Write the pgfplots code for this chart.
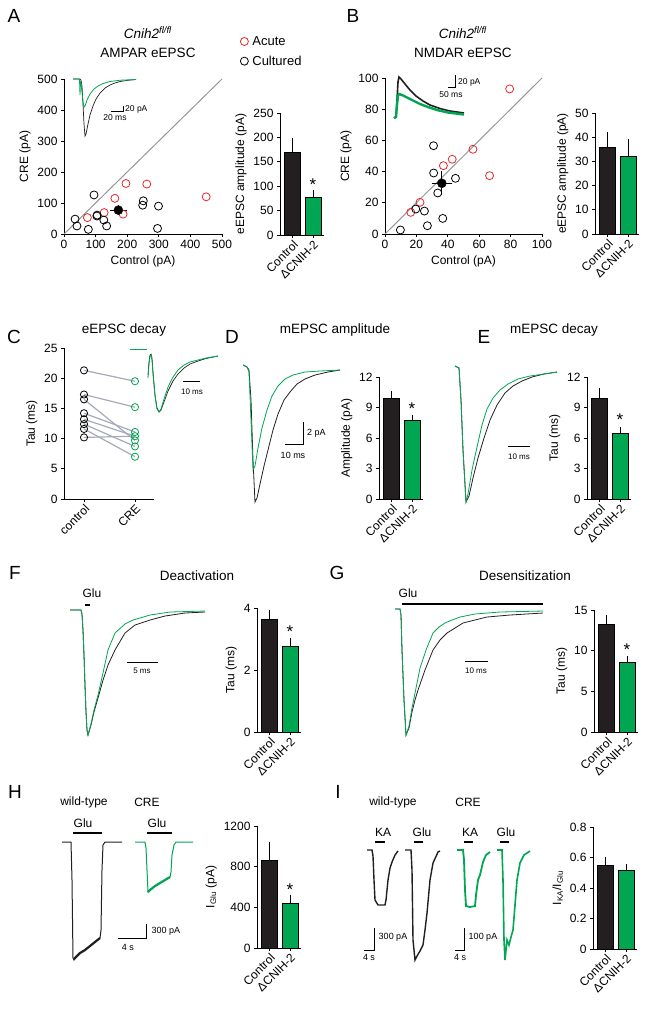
\documentclass[border=0pt]{standalone}
\usepackage{pgfplots}
\pgfplotsset{compat=1.18}
\usepackage{fontspec}
\setmainfont{Liberation Sans}
\definecolor{cgreen}{RGB}{0,166,81}
\definecolor{cred}{RGB}{230,40,40}
\definecolor{cblack}{RGB}{35,31,32}
\definecolor{cgray}{RGB}{150,150,150}
\definecolor{cline}{RGB}{165,170,185}
\newcommand{\fs}[1]{\fontsize{#1}{#1}\selectfont}
\tikzset{starnode/.style={anchor=south, font=\fs{17}, inner sep=0pt}}
\pgfplotsset{
 base/.style={scale only axis, anchor=south west, axis lines=left,
   axis line style={-, line width=0.9pt, black}, tick align=outside,
   major tick length=3pt, tick style={line width=0.8pt, black},
   tick label style={font=\fs{12}}, label style={font=\fs{12}}, clip=false,
   /pgf/number format/assume math mode=true, /pgf/number format/1000 sep={},
   scaled ticks=false},
 barax/.style={base, width=44pt, xmin=0, xmax=44, ymin=0, xtick={12.5,33},
   xticklabels={Control,ΔCNIH-2},
   xticklabel style={rotate=45, anchor=north east, inner sep=1pt, font=\fs{12}}},
 barplot/.style={ybar, bar width=16, bar shift=0pt, fill=#1, draw=black,
   line width=0.5pt, error bars/.cd, y dir=plus, y explicit,
   error bar style={line width=0.8pt, black},
   error mark options={line width=0.8pt, mark size=3pt, black}},
}
\begin{document}
\begin{tikzpicture}[x=1pt,y=1pt]
\path[use as bounding box] (0,0) rectangle (649,-1009);

% ---------------- A scatter
\begin{axis}[base, at={(64pt,-234pt)}, width=158pt, height=155pt,
  xmin=0, xmax=500, ymin=0, ymax=500, xtick={0,100,...,500}, ytick={0,100,...,500},
  xlabel={Control (pA)}, ylabel={CRE (pA)},
  legend style={at={(1.115,1.29)}, anchor=north west, draw=none, fill=none,
    font=\fs{13}, row sep=5pt, inner sep=0pt,
    nodes={inner xsep=4pt}}, legend cell align=left]
\addplot[cgray, line width=1pt, forget plot] coordinates {(0,0)(500,500)};
\addplot[only marks, mark=o, mark size=4pt, cred, line width=0.8pt] coordinates {
(196,163)(262,161)(450,120)(161,115)(127,69)(74,53)(187,64)};
\addlegendentry{Acute}
\addplot[only marks, mark=o, mark size=4pt, black, line width=0.8pt] coordinates {
(95,126)(251,107)(249,93)(299,90)(296,18)(35,48)(41,26)(77,15)(105,61)(126,45)(135,26)(104,58)};
\addlegendentry{Cultured}
\addplot[only marks, mark=*, mark size=4.5pt, black, forget plot,
  error bars/.cd, x dir=both, x explicit, y dir=both, y explicit,
  error bar style={line width=0.8pt}, error mark options={mark size=2.5pt, line width=0.8pt}]
  coordinates {(172,77) +- (20,7)};
\end{axis}

% ---------------- A bars
\begin{axis}[barax, at={(280pt,-235pt)}, height=122pt, ymax=250, ytick={0,50,...,250},
  ylabel={eEPSC amplitude (pA)}]
\addplot[barplot=cblack] coordinates {(12.5,170) +- (0,22)};
\addplot[barplot=cgreen] coordinates {(33,77) +- (0,10)};
\node[starnode] at (axis cs:33,90) {*};
\end{axis}

% ---------------- B scatter
\begin{axis}[base, at={(385pt,-234pt)}, width=157pt, height=156pt,
  xmin=0, xmax=100, ymin=0, ymax=100, xtick={0,20,...,100}, ytick={0,20,...,100},
  xlabel={Control (pA)}, ylabel={CRE (pA)}]
\addplot[cgray, line width=1pt] coordinates {(0,0)(100,100)};
\addplot[only marks, mark=o, mark size=4pt, cred, line width=0.8pt] coordinates {
(79.4,93)(56,54.3)(66.6,37.4)(42.8,47.9)(37.2,43.8)(22.3,20.3)(16.4,13.9)};
\addplot[only marks, mark=o, mark size=4pt, black, line width=0.8pt] coordinates {
(30.9,56.6)(31,39.1)(44.9,35.7)(33.6,26.3)(19.6,16)(25.1,14.7)(36.8,10)(27,5.3)(9.8,2.6)};
\addplot[only marks, mark=*, mark size=4.5pt, black,
  error bars/.cd, x dir=both, x explicit, y dir=both, y explicit,
  error bar style={line width=0.8pt}, error mark options={mark size=2.5pt, line width=0.8pt}]
  coordinates {(36.2,32.5) +- (4.9,6)};
\end{axis}

% ---------------- B bars
\begin{axis}[barax, at={(595pt,-234pt)}, height=121pt, ymax=50, ytick={0,10,...,50},
  ylabel={eEPSC amplitude (pA)}]
\addplot[barplot=cblack] coordinates {(12.5,36) +- (0,5)};
\addplot[barplot=cgreen] coordinates {(33,32) +- (0,6)};
\end{axis}

% ---------------- C
\begin{axis}[base, at={(64pt,-499pt)}, width=90pt, height=151pt,
  xmin=0, xmax=90, ymin=0, ymax=25, ytick={0,5,...,25}, xtick={20,71},
  xticklabels={control,CRE},
  xticklabel style={rotate=45, anchor=north east, inner sep=1pt, font=\fs{12}},
  ylabel={Tau (ms)}]
\addplot[cline, line width=1.2pt] coordinates {(20,21.3)(71,19.5)};
\addplot[cline, line width=1.2pt] coordinates {(20,17.3)(71,15.2)};
\addplot[cline, line width=1.2pt] coordinates {(20,16.5)(71,9.7)};
\addplot[cline, line width=1.2pt] coordinates {(20,14.2)(71,11.1)};
\addplot[cline, line width=1.2pt] coordinates {(20,13.2)(71,10.4)};
\addplot[cline, line width=1.2pt] coordinates {(20,12.4)(71,8.7)};
\addplot[cline, line width=1.2pt] coordinates {(20,11.6)(71,7.0)};
\addplot[cline, line width=1.2pt] coordinates {(20,10.2)(71,10.4)};
\addplot[only marks, mark=o, mark size=3.6pt, black, line width=0.8pt, mark options={fill=white}] coordinates {
(20,21.3)(20,17.3)(20,16.5)(20,14.2)(20,13.2)(20,12.4)(20,11.6)(20,10.2)};
\addplot[only marks, mark=o, mark size=3.6pt, cgreen, line width=0.8pt, mark options={fill=white}] coordinates {
(71,19.5)(71,15.2)(71,11.1)(71,10.4)(71,9.7)(71,8.7)(71,7.0)};
\end{axis}

% ---------------- D bars
\begin{axis}[barax, at={(379pt,-499pt)}, height=122pt, ymax=12, ytick={0,3,...,12},
  ylabel={Amplitude (pA)}]
\addplot[barplot=cblack] coordinates {(12.5,9.9) +- (0,0.4)};
\addplot[barplot=cgreen] coordinates {(33,7.7) +- (0,0.25)};
\node[starnode] at (axis cs:33,8.3) {*};
\end{axis}

% ---------------- E bars
\begin{axis}[barax, at={(587pt,-499pt)}, height=122pt, ymax=12, ytick={0,3,...,12},
  ylabel={Tau (ms)}]
\addplot[barplot=cblack] coordinates {(12.5,9.9) +- (0,0.7)};
\addplot[barplot=cgreen] coordinates {(33,6.5) +- (0,0.3)};
\node[starnode] at (axis cs:33,7.2) {*};
\end{axis}

% ---------------- F bars
\begin{axis}[barax, at={(257pt,-732pt)}, height=124pt, ymax=4, ytick={0,2,4},
  ylabel={Tau (ms)}]
\addplot[barplot=cblack] coordinates {(12.5,3.65) +- (0,0.2)};
\addplot[barplot=cgreen] coordinates {(33,2.77) +- (0,0.18)};
\node[starnode] at (axis cs:33,3.03) {*};
\end{axis}

% ---------------- G bars
\begin{axis}[barax, at={(594pt,-732pt)}, height=122pt, ymax=15, ytick={0,5,10,15},
  ylabel={Tau (ms)}]
\addplot[barplot=cblack] coordinates {(12.5,13.2) +- (0,0.8)};
\addplot[barplot=cgreen] coordinates {(33,8.6) +- (0,0.4)};
\node[starnode] at (axis cs:33,9.4) {*};
\end{axis}

% ---------------- H bars
\begin{axis}[barax, at={(257pt,-948pt)}, height=122pt, ymax=1200, ytick={0,400,800,1200},
  ylabel={I\textsubscript{Glu} (pA)}]
\addplot[barplot=cblack] coordinates {(12.5,860) +- (0,155)};
\addplot[barplot=cgreen] coordinates {(33,445) +- (0,50)};
\node[starnode] at (axis cs:33,510) {*};
\end{axis}

% ---------------- I bars
\begin{axis}[barax, at={(593pt,-949pt)}, height=122pt, ymax=0.8, ytick={0,0.2,...,0.8},
  ylabel={I\textsubscript{KA}/I\textsubscript{Glu}},
  yticklabel style={/pgf/number format/fixed, /pgf/number format/precision=1}]
\addplot[barplot=cblack] coordinates {(12.5,0.55) +- (0,0.035)};
\addplot[barplot=cgreen] coordinates {(33,0.515) +- (0,0.025)};
\end{axis}

% ---------------- overlay: traces, scale bars, texts (pixel coordinates)
\begin{axis}[at={(0pt,-1009pt)}, anchor=south west, scale only axis, width=649pt, height=1009pt,
  xmin=0, xmax=649, ymin=0, ymax=1009, y dir=reverse, hide axis, clip=false]
% A inset
\addplot[cblack, line width=0.7pt] coordinates {(73,79)(80,79)(81,80)(82,86)(83,104)(84,124)(85,136)(86,134)(88,124)(90,115)(93,106)(96,99)(100,93)(105,88)(110,85)(115,83)(120,81.5)(128,80.3)(136,79.5)};
\addplot[cgreen, line width=0.8pt] coordinates {(73,79)(79.5,79)(80,95)(80.5,82)(81,83)(82,92)(83,102)(84,107)(85,106)(87,100)(90,94)(94,89)(98,86)(103,83.5)(110,81.5)(120,80.2)(136,79.5)};
\addplot[black, line width=0.6pt] coordinates {(111,111)(123,111)(123,106)};
% B inset
\addplot[cblack, line width=1.6pt] coordinates {(394,118)(396,117)(397,100)(398,82)(399,77)(401,79)(405,84)(410,90)(416,96)(423,101)(430,105)(440,108.5)(450,111)(464,113)};
\addplot[cgreen, line width=2.4pt] coordinates {(394,118)(396,117)(397,105)(398,96)(399,94)(402,95)(406,97)(412,100)(420,104)(428,107)(437,110)(448,112.5)(464,114.5)};
\addplot[black, line width=0.6pt] coordinates {(448,87)(455,87)(455,75)};
% C inset
\addplot[cgreen, line width=0.8pt] coordinates {(130,349)(147,349)};
\addplot[cblack, line width=0.7pt] coordinates {(148,375)(149,362)(150,355)(151,354)(152,358)(153,372)(155,395)(157,408)(159,412)(161,410)(164,402)(168,391)(173,381)(178,374)(184,368)(190,364)(198,361)(206,358.5)(218,356)};
\addplot[cgreen, line width=0.8pt] coordinates {(148,378)(149,364)(150,356)(151,355)(152,360)(153,374)(155,396)(157,409)(159,412)(161,409)(164,399)(168,387)(173,377)(178,370)(184,365)(190,362)(198,360)(206,358)(218,356)};
\addplot[black, line width=0.6pt] coordinates {(183,381)(200,381)};
% D traces
\addplot[cblack, line width=0.8pt] coordinates {(243,365)(247,367)(249,370)(251,400)(253,460)(255,502)(257,498)(260,484)(264,466)(268,450)(273,430)(278,414)(284,400)(290,392)(297,384)(305,379)(315,375)(328,372)(340,370)};
\addplot[cgreen, line width=0.8pt] coordinates {(243,365)(247,367)(249,372)(251,420)(253,470)(255,466)(258,448)(262,428)(267,410)(272,396)(278,386)(285,379)(293,375)(305,372)(320,371)(340,370)};
\addplot[black, line width=0.6pt] coordinates {(285,444)(303,444)(303,422)};
% E traces
\addplot[cblack, line width=0.8pt] coordinates {(455,366)(459,368)(461,400)(463,450)(466,502)(469,496)(473,478)(478,458)(484,438)(490,420)(497,405)(505,393)(513,386)(522,381)(532,377)(544,374)(557,372)};
\addplot[cgreen, line width=0.8pt] coordinates {(455,366)(459,368)(461,400)(463,450)(466,502)(468,494)(472,470)(477,447)(482,425)(487,409)(493,398)(500,390)(508,384)(518,379)(530,376)(544,374)(557,372)};
\addplot[black, line width=0.6pt] coordinates {(508,446)(530,446)};
% F traces
\addplot[black, line width=2pt] coordinates {(85,605)(90,605)};
\addplot[cblack, line width=0.8pt] coordinates {(70,610)(81,610)(82,614)(83,630)(84,655)(85,685)(86,712)(87,730)(88,735)(91,725)(94,712)(98,698)(103,680)(108,665)(115,650)(125,633)(135,625)(150,620)(165,616)(185,613)(205,612)};
\addplot[cgreen, line width=0.8pt] coordinates {(70,610)(81,610)(82,614)(83,630)(84,655)(85,685)(86,712)(87,730)(88,735)(91,724)(94,710)(98,695)(103,673)(108,650)(115,633)(125,624)(133,620)(150,615)(170,612)(205,611)};
\addplot[black, line width=0.6pt] coordinates {(127,662)(158,662)};
% G traces
\addplot[black, line width=2pt] coordinates {(402,604)(543,604)};
\addplot[cblack, line width=0.8pt] coordinates {(395,609)(400,609)(401,615)(402,650)(404,700)(406,735)(409,728)(412,712)(415,700)(418,690)(425,670)(433,650)(440,640)(447,633)(455,628)(463,623)(475,620)(487,617)(510,615)(543,613)};
\addplot[cgreen, line width=0.8pt] coordinates {(395,609)(400,609)(401,615)(402,650)(404,700)(406,735)(409,726)(412,708)(416,688)(420,668)(426,650)(433,633)(439,627)(445,623)(452,620)(460,617)(475,614)(500,612)(543,611)};
\addplot[black, line width=0.6pt] coordinates {(465,661)(488,661)};
% H traces
\addplot[black, line width=1.5pt] coordinates {(73,833)(102,833)};
\addplot[black, line width=1.5pt] coordinates {(147,833)(172,833)};
\addplot[cblack, line width=1pt] coordinates {(62,842)(71,842)(72,880)(73,958)(74,960)(76,957)(80,953)(85,950)(90,946)(95,942)(100,938)(101,930)(102,870)(103,845)(105,842)(122,842)};
\addplot[cblack, line width=2.2pt] coordinates {(74,959)(76,957)(80,953)(85,950)(90,946)(95,942)(100,938)};
\addplot[cgreen, line width=1pt] coordinates {(135,842)(145,842)(146,848)(147,870)(148,892)(150,890)(155,886)(160,883)(165,880)(170,877)(171,872)(172,855)(174,845)(176,842)(193,842)};
\addplot[cgreen, line width=2.2pt] coordinates {(148,892)(150,890)(155,886)(160,883)(165,880)(170,877)};
\addplot[black, line width=0.6pt] coordinates {(118,938)(146,938)(146,924)};
% I traces
\addplot[black, line width=2pt] coordinates {(375,842)(385,842)};
\addplot[black, line width=2pt] coordinates {(414,842)(423,842)};
\addplot[black, line width=2pt] coordinates {(464,842)(473,842)};
\addplot[black, line width=2pt] coordinates {(500,842)(509,842)};
\addplot[cblack, line width=1.4pt] coordinates {(367,850)(372,850)(373,856)(374,880)(375,900)(378,905)(385,905)(386,900)(388,880)(390,868)(392,862)(395,855)(398,851)};
\addplot[cblack, line width=1.4pt] coordinates {(405,850)(411,850)(412,870)(413,940)(415,960)(417,956)(420,951)(423,945)(425,930)(427,913)(430,880)(433,863)(438,852)(440,851)};
\addplot[cgreen, line width=1.8pt] coordinates {(457,850)(463,850)(464,860)(465,890)(466,906)(470,907)(475,906)(476,895)(478,880)(480,875)(483,862)(486,855)(490,852)};
\addplot[cgreen, line width=1.6pt] coordinates {(497,850)(502,850)(503,880)(504,940)(505,960)(507,940)(509,945)(511,937)(513,930)(515,905)(517,880)(520,863)(524,855)(530,851)};
\addplot[black, line width=0.6pt] coordinates {(364,950)(374,950)(374,928)};
\addplot[black, line width=0.6pt] coordinates {(455,950)(464,950)(464,928)};

% panel letters
\node[font=\fs{19}] at (axis cs:14,16) {A};
\node[font=\fs{19}] at (axis cs:353,16) {B};
\node[font=\fs{19}] at (axis cs:14,337) {C};
\node[font=\fs{19}] at (axis cs:232,337) {D};
\node[font=\fs{19}] at (axis cs:484,337) {E};
\node[font=\fs{19}] at (axis cs:15,573) {F};
\node[font=\fs{19}] at (axis cs:337,573) {G};
\node[font=\fs{19}] at (axis cs:15,792) {H};
\node[font=\fs{19}] at (axis cs:338,792) {I};
% titles
\node[font=\fs{13.5}] at (axis cs:148,33) {\textit{Cnih2}\textsuperscript{\textit{fl/fl}}};
\node[font=\fs{13.5}] at (axis cs:148,53) {AMPAR eEPSC};
\node[font=\fs{13.5}] at (axis cs:463,33) {\textit{Cnih2}\textsuperscript{\textit{fl/fl}}};
\node[font=\fs{13.5}] at (axis cs:463,53) {NMDAR eEPSC};
\node[font=\fs{13.5}] at (axis cs:124,330) {eEPSC decay};
\node[font=\fs{13.5}] at (axis cs:335,330) {mEPSC amplitude};
\node[font=\fs{13.5}] at (axis cs:554,330) {mEPSC decay};
\node[font=\fs{13.5}] at (axis cs:197,576) {Deactivation};
\node[font=\fs{13.5}] at (axis cs:525,576) {Desensitization};
% small labels
\node[font=\fs{8.5}, anchor=west, inner sep=1pt] at (axis cs:124,109) {20 pA};
\node[font=\fs{8.5}] at (axis cs:115,118) {20 ms};
\node[font=\fs{8.5}, anchor=west, inner sep=1pt] at (axis cs:457,82) {20 pA};
\node[font=\fs{8.5}] at (axis cs:451,95) {50 ms};
\node[font=\fs{8}] at (axis cs:192,392) {10 ms};
\node[font=\fs{9}, anchor=west, inner sep=1pt] at (axis cs:306,433) {2 pA};
\node[font=\fs{9}] at (axis cs:293,455) {10 ms};
\node[font=\fs{8}] at (axis cs:519,457) {10 ms};
\node[font=\fs{12}] at (axis cs:92,593) {Glu};
\node[font=\fs{8}] at (axis cs:142,671) {5 ms};
\node[font=\fs{12}] at (axis cs:408,593) {Glu};
\node[font=\fs{8}] at (axis cs:476,671) {10 ms};
\node[font=\fs{12}] at (axis cs:84,802) {wild-type};
\node[font=\fs{12}] at (axis cs:147,802) {CRE};
\node[font=\fs{12}] at (axis cs:83,823) {Glu};
\node[font=\fs{12}] at (axis cs:157,823) {Glu};
\node[font=\fs{9}] at (axis cs:166,931) {300 pA};
\node[font=\fs{9}] at (axis cs:128,947) {4 s};
\node[font=\fs{12}] at (axis cs:393,802) {wild-type};
\node[font=\fs{12}] at (axis cs:468,802) {CRE};
\node[font=\fs{12}] at (axis cs:383,832) {KA};
\node[font=\fs{12}] at (axis cs:422,832) {Glu};
\node[font=\fs{12}] at (axis cs:470,832) {KA};
\node[font=\fs{12}] at (axis cs:506,832) {Glu};
\node[font=\fs{9}] at (axis cs:393,937) {300 pA};
\node[font=\fs{9}] at (axis cs:369,957) {4 s};
\node[font=\fs{9}] at (axis cs:483,937) {100 pA};
\node[font=\fs{9}] at (axis cs:460,957) {4 s};
\end{axis}
\end{tikzpicture}
\end{document}
